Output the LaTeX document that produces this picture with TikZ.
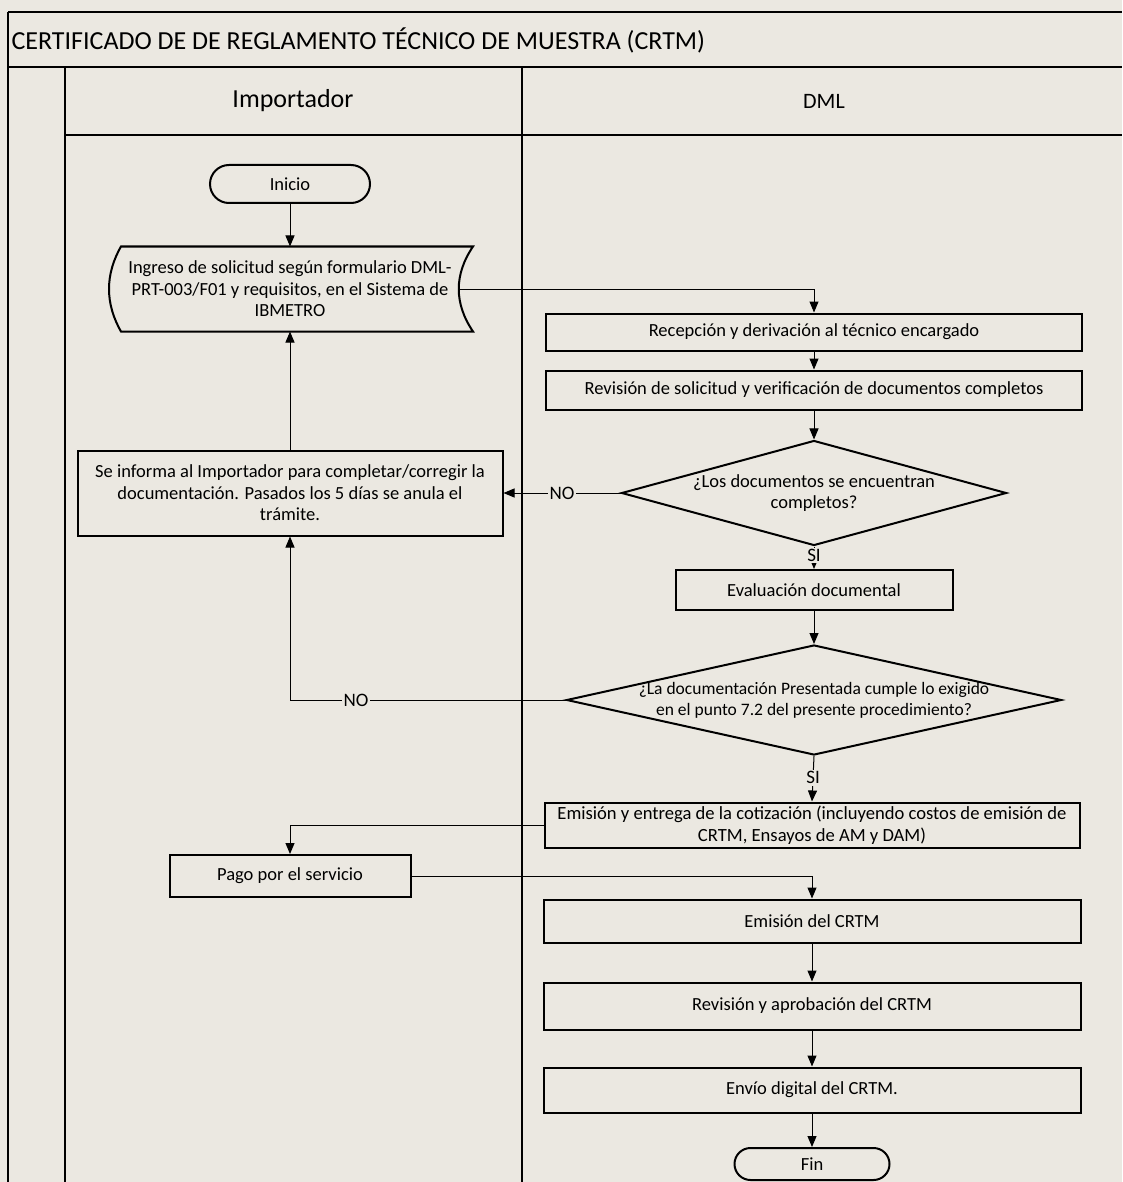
\documentclass[tikz,border=0pt]{standalone}
\usepackage{fontspec}
\setmainfont{Carlito}
\usepackage{tikz}
\usetikzlibrary{arrows.meta,shapes.geometric}
\definecolor{paper}{RGB}{235,232,225}

\begin{document}
\begin{tikzpicture}[x=1pt,y=1pt,>={Triangle[length=11pt,width=9pt]},
  frame/.style={line width=2pt},
  proc node/.style={rectangle,draw,line width=2pt,align=center,
    font=\fontsize{18.5}{21.5}\selectfont,inner sep=2pt},
  term node/.style={proc node,minimum height=38pt,rounded corners=19pt},
  dec node/.style={diamond,draw,line width=2pt,inner sep=0pt},
  dec text/.style={align=center,font=\fontsize{17.5}{21}\selectfont},
  flow/.style={->,line width=1pt},
  answer/.style={fill=paper,inner sep=1.5pt,font=\fontsize{19}{20}\selectfont}]

  % page and pool
  \fill[paper] (0,0) rectangle (1122,-1182);
  \useasboundingbox (0,0) rectangle (1122,-1182);
  \draw[frame] (8,-12) -- (1122,-12);
  \draw[frame] (8,-12) -- (8,-1182);
  \draw[frame] (8,-67) -- (1122,-67);
  \draw[frame] (65,-67) -- (65,-1182);
  \draw[frame] (522,-67) -- (522,-1182);
  \draw[frame] (65,-135) -- (1122,-135);

  \node[anchor=west,font=\fontsize{26}{30}\selectfont] (title) at (8,-40)
    {CERTIFICADO DE DE REGLAMENTO TÉCNICO DE MUESTRA (CRTM)};
  \node[font=\fontsize{26}{30}\selectfont] (lane1) at (293,-101) {Importador};
  \node[font=\fontsize{22}{26}\selectfont] (lane2) at (824,-101) {DML};

  % Importador
  \node[term node,minimum width=160pt] (ini) at (290,-184) {Inicio};
  \node[proc node,draw=none,minimum width=336pt,minimum height=83pt] (ing) at (290,-289)
    {Ingreso de solicitud según formulario DML-\\PRT-003/F01 y requisitos, en el Sistema de\\IBMETRO};
  \draw[line width=2pt] (ing.north west) -- ([xshift=14pt]ing.north east)
    .. controls +(-19,-28) and +(-19,28) .. ([xshift=14pt]ing.south east)
    -- (ing.south west)
    .. controls +(-16,28) and +(-16,-28) .. (ing.north west) -- cycle;
  \node[proc node,minimum width=425pt,minimum height=85pt] (inf) at (290,-493)
    {Se informa al Importador para completar/corregir la\\documentación. Pasados los 5 días se anula el\\trámite.};
  \node[proc node,minimum width=241pt,minimum height=42pt] (pag) at (290,-876) {Pago por el servicio};

  % DML
  \node[proc node,minimum width=536pt,minimum height=37pt] (rec) at (814,-332)
    {Recepción y derivación al técnico encargado};
  \node[proc node,minimum width=536pt,minimum height=39pt] (rev) at (814,-390)
    {Revisión de solicitud y verificación de documentos completos};
  \node[dec node,minimum width=385pt,minimum height=105pt,
    label={[dec text,font=\fontsize{18.5}{21}\selectfont]center:{¿Los documentos se encuentran\\completos?}}] (d1) at (814,-493) {};
  \node[proc node,minimum width=277pt,minimum height=40pt] (eva) at (814,-590) {Evaluación documental};
  \node[dec node,minimum width=495pt,minimum height=110pt,
    label={[dec text]center:{¿La documentación Presentada cumple lo exigido\\en el punto 7.2 del presente procedimiento?}}] (d2) at (814,-700) {};
  \node[proc node,minimum width=535pt,minimum height=45pt,font=\fontsize{18.6}{21.5}\selectfont] (emi) at (812,-825)
    {Emisión y entrega de la cotización (incluyendo costos de emisión de\\CRTM, Ensayos de AM y DAM)};
  \node[proc node,minimum width=537pt,minimum height=43pt] (crt) at (812,-921) {Emisión del CRTM};
  \node[proc node,minimum width=537pt,minimum height=47pt] (apr) at (812,-1006) {Revisión y aprobación del CRTM};
  \node[proc node,minimum width=537pt,minimum height=45pt] (env) at (812,-1090) {Envío digital del CRTM.};
  \node[term node,minimum width=155pt,minimum height=32pt,rounded corners=16pt] (fin) at (812,-1164) {Fin};

  % connectors
  \draw[flow] (ini) -- (ing);
  \draw[flow] (ing.east) -| (rec.north);
  \draw[flow] (rec) -- (rev);
  \draw[flow] (rev) -- (d1);
  \draw[flow] (d1.west) -- node[answer] {NO} (inf.east);
  \draw[flow] (inf) -- (ing);
  \draw[flow] (d1.south) -- node[answer,pos=0.4] {SI} (eva.north);
  \draw[flow] (eva) -- (d2);
  \draw[flow] (d2.west) -| node[answer,pos=0.38] {NO} (inf.south);
  \draw[flow] (d2.south) -- node[answer,pos=0.48] {SI} (emi.north);
  \draw[flow] (emi.west) -| (pag.north);
  \draw[flow] (pag.east) -| (crt.north);
  \draw[flow] (crt) -- (apr);
  \draw[flow] (apr) -- (env);
  \draw[flow] (env) -- (fin);
\end{tikzpicture}
\end{document}
